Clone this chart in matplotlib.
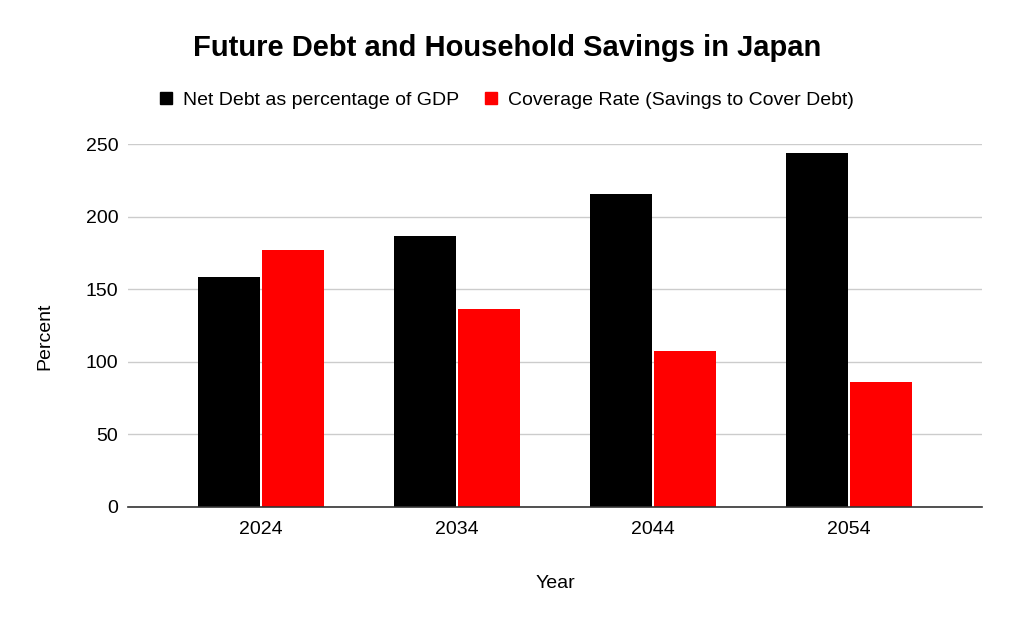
import numpy as np
import matplotlib.pyplot as plt
from matplotlib.lines import Line2D

plt.rcParams['font.family'] = ['Liberation Sans', 'DejaVu Sans']

# Data
years = ['2024', '2034', '2044', '2054']
net_debt = [158.5, 186.6, 215.7, 244.0]
coverage = [177.2, 136.5, 107.5, 86.2]

black = '#000000'
red = '#ff0000'

fig = plt.figure(figsize=(10.13, 6.27), dpi=100)
ax = fig.add_axes([0.1264, 0.1914, 0.8430, 0.5789])

x = np.arange(len(years))
w = 0.316
ax.bar(x - 0.163, net_debt, w, color=black, zorder=3)
ax.bar(x + 0.163, coverage, w, color=red, zorder=3)

ax.set_xlim(-0.679, 3.679)
ax.set_ylim(0, 250)
ax.set_yticks([0, 50, 100, 150, 200, 250])
ax.set_xticks(x)
ax.set_xticklabels(years)
ax.tick_params(axis='both', length=0, labelsize=14, colors='#000000')
ax.tick_params(axis='x', pad=10)
ax.tick_params(axis='y', pad=7)

ax.grid(axis='y', color='#cccccc', linewidth=1, zorder=0)
for s in ['top', 'right', 'left']:
    ax.spines[s].set_visible(False)
ax.spines['bottom'].set_color('#333333')
ax.spines['bottom'].set_linewidth(1.2)
ax.spines['bottom'].set_zorder(4)

fig.text(0.044, 1 - 336 / 627, 'Percent', rotation=90, fontsize=14,
         ha='center', va='center')
fig.text(555 / 1013, 1 - 583 / 627, 'Year', fontsize=14,
         ha='center', va='center')

fig.text(507 / 1013, 1 - 48 / 627, 'Future Debt and Household Savings in Japan',
         fontsize=21, fontweight='bold', ha='center', va='center')

handles = [Line2D([], [], marker='s', linestyle='none', color=black, markersize=8),
           Line2D([], [], marker='s', linestyle='none', color=red, markersize=8)]
fig.legend(handles, ['Net Debt as percentage of GDP',
                     'Coverage Rate (Savings to Cover Debt)'],
           loc='center', bbox_to_anchor=(506 / 1013, 1 - 100 / 627), ncol=2,
           frameon=False, fontsize=14, handlelength=0.8, handletextpad=0.5,
           columnspacing=1.2)

fig.savefig('out.png', dpi=100)
